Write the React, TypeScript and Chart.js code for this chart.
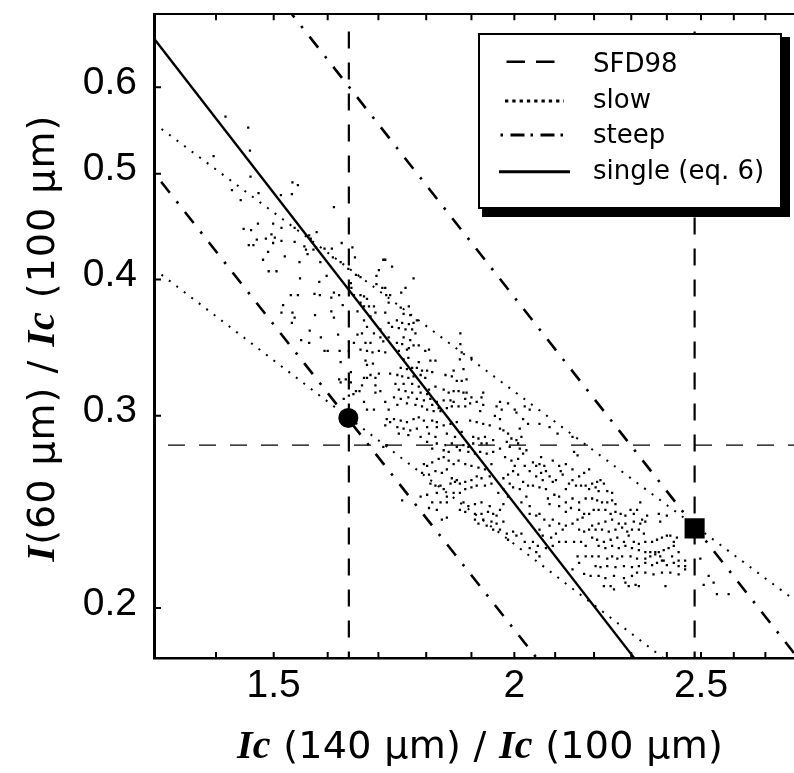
import React, { useEffect, useRef } from "react";
import { Chart, registerables } from "chart.js";

Chart.register(...registerables);

// ---------- axes ----------
const xRange = [1.3, 2.8];
const yRange = [0.18, 0.7];
const xMinorTicks = [1.4, 1.5, 1.6, 1.7, 1.8, 1.9, 2.0, 2.1, 2.2, 2.3, 2.4, 2.5, 2.6, 2.7];
const xTickLabels = [1.5, 2, 2.5];
const yTickLabels = [0.2, 0.3, 0.4, 0.5, 0.6];

// ---------- model lines (end points, data units) ----------
const singleX = [1.3, 2.308];
const singleY = [0.665, 0.18];
const slowUpperX = [1.3, 2.8];
const slowUpperY = [0.556, 0.203];
const slowLowerX = [1.3, 2.39];
const slowLowerY = [0.409, 0.18];
const steepUpperX = [1.533, 2.8];
const steepUpperY = [0.7, 0.181];
const steepLowerX = [1.3, 2.054];
const steepLowerY = [0.501, 0.18];
const sfdVerticalX = [1.641, 2.481];
const sfdVerticalY = [0.675, 0.18];
const sfdHorizontalX = [1.3, 2.8];
const sfdHorizontalY = 0.282;

// ---------- markers ----------
const circleMarker = [1.64, 0.2987];
const squareMarker = [2.481, 0.2366];

// ---------- legend ----------
const legendLabels = ["SFD98", "slow", "steep", "single (eq. 6)"];

// ---------- scatter cloud ----------
const cloudUpperLeft = [
  [1.416,0.564],[1.455,0.551],[1.458,0.525],[1.396,0.519],[1.459,0.497],[1.534,0.491],[1.544,0.488],[1.427,0.483],[1.442,0.473],[1.473,0.480],[1.513,0.478],[1.533,0.479],[1.612,0.466],[1.472,0.450],[1.447,0.445],[1.460,0.444],[1.499,0.450],[1.514,0.446],[1.538,0.446],[1.579,0.442],[1.496,0.440],[1.502,0.437],[1.486,0.436],[1.470,0.435],[1.456,0.430],[1.464,0.430],[1.499,0.432],[1.514,0.434],[1.538,0.433],[1.556,0.429],[1.565,0.439],[1.568,0.436],[1.559,0.426],[1.578,0.428],[1.594,0.427],[1.608,0.427],[1.627,0.432],[1.648,0.428],[1.490,0.424],[1.562,0.422],[1.573,0.426],[1.481,0.417],[1.520,0.420],[1.547,0.415],[1.586,0.415],[1.610,0.419],[1.625,0.415],[1.653,0.419],[1.491,0.407],[1.505,0.407],[1.548,0.401],[1.584,0.398],[1.598,0.403],[1.640,0.409],[1.655,0.404],[1.664,0.402],[1.696,0.403],[1.710,0.417],[1.714,0.417],[1.701,0.408],[1.728,0.411],[1.531,0.387],[1.544,0.387],[1.575,0.388],[1.585,0.387],[1.607,0.385],[1.612,0.389],[1.622,0.387],[1.629,0.379],[1.645,0.397],[1.646,0.393],[1.651,0.387],[1.664,0.387],[1.671,0.386],[1.677,0.384],[1.696,0.396],[1.708,0.393],[1.714,0.393],[1.716,0.387],[1.724,0.387],[1.721,0.381],[1.517,0.379],[1.514,0.373],[1.534,0.373],[1.538,0.369],[1.533,0.365],[1.576,0.371],[1.607,0.374],[1.612,0.369],[1.658,0.374],[1.664,0.381],[1.671,0.378],[1.681,0.378],[1.691,0.378],[1.684,0.370],[1.694,0.373],[1.671,0.367],[1.677,0.362],[1.667,0.357],[1.691,0.357],[1.714,0.373],[1.721,0.365],[1.728,0.362],[1.704,0.360],[1.566,0.359],[1.587,0.354],[1.620,0.356],[1.550,0.352],[1.565,0.350],[1.594,0.344],[1.600,0.344],[1.623,0.344],[1.641,0.351],[1.641,0.344],[1.651,0.350],[1.658,0.356],[1.664,0.345],[1.674,0.350],[1.684,0.350],[1.677,0.344],[1.704,0.354],[1.710,0.351],[1.721,0.354],[1.714,0.343],[1.701,0.344],[1.688,0.343],
];

const cloudUpperMid = [
  [1.773,0.401],[1.756,0.393],[1.747,0.389],[1.746,0.377],[1.763,0.378],[1.752,0.372],[1.766,0.371],[1.738,0.367],[1.749,0.365],[1.763,0.364],[1.773,0.365],[1.780,0.367],[1.742,0.361],[1.756,0.360],[1.770,0.360],[1.777,0.357],[1.752,0.354],[1.766,0.352],[1.738,0.350],[1.749,0.349],[1.763,0.346],[1.773,0.348],[1.784,0.348],[1.798,0.344],[1.806,0.345],[1.742,0.344],[1.759,0.345],[1.875,0.357],[1.875,0.349],[1.878,0.343],
];

const cloudLeftLow = [
  [1.625,0.336],[1.674,0.337],[1.677,0.334],[1.689,0.335],[1.622,0.324],[1.625,0.322],[1.635,0.324],[1.645,0.329],[1.645,0.322],[1.671,0.325],[1.677,0.325],[1.684,0.327],[1.694,0.325],[1.701,0.328],[1.694,0.320],[1.667,0.320],[1.662,0.316],[1.655,0.316],[1.650,0.314],[1.694,0.315],[1.704,0.316],[1.724,0.328],[1.631,0.311],[1.641,0.313],[1.671,0.309],[1.714,0.309],[1.677,0.304],[1.691,0.304],[1.721,0.304],[1.717,0.298],[1.714,0.294],[1.724,0.296],[1.710,0.281],[1.717,0.282],
];

const cloudCentreTop = [
  [1.752,0.338],[1.762,0.339],[1.784,0.336],[1.809,0.337],[1.820,0.337],[1.746,0.332],[1.759,0.331],[1.770,0.332],[1.780,0.332],[1.791,0.330],[1.802,0.330],[1.813,0.329],[1.739,0.327],[1.749,0.326],[1.762,0.325],[1.773,0.326],[1.788,0.327],[1.798,0.325],[1.735,0.321],[1.752,0.321],[1.770,0.321],[1.784,0.319],[1.820,0.319],[1.806,0.317],[1.742,0.317],[1.756,0.316],[1.770,0.315],[1.788,0.315],[1.802,0.314],[1.732,0.312],[1.746,0.311],[1.762,0.312],[1.780,0.311],[1.795,0.310],[1.809,0.311],[1.823,0.309],[1.739,0.307],[1.759,0.308],[1.777,0.307],[1.791,0.306],[1.813,0.307],[1.827,0.305],[1.802,0.304],[1.816,0.303],[1.831,0.303],[1.845,0.305],[1.856,0.306],[1.871,0.306],[1.838,0.317],[1.849,0.315],[1.860,0.316],[1.871,0.316],[1.882,0.315],[1.889,0.315],[1.853,0.310],[1.860,0.309],[1.886,0.311],[1.838,0.310],[1.886,0.306],[1.897,0.308],[1.874,0.338],[1.900,0.339],[1.860,0.330],[1.882,0.331],[1.856,0.326],[1.867,0.323],[1.878,0.323],[1.889,0.324],[1.842,0.327],
];

const cloudCentreMid = [
  [1.732,0.298],[1.746,0.297],[1.759,0.296],[1.773,0.298],[1.784,0.299],[1.795,0.297],[1.813,0.297],[1.823,0.296],[1.739,0.293],[1.752,0.292],[1.766,0.291],[1.780,0.292],[1.802,0.293],[1.823,0.293],[1.838,0.294],[1.853,0.295],[1.867,0.296],[1.897,0.297],[1.912,0.296],[1.927,0.295],[1.942,0.294],[1.742,0.289],[1.762,0.288],[1.788,0.287],[1.806,0.289],[1.820,0.287],[1.845,0.289],[1.863,0.287],[1.878,0.290],[1.904,0.287],[1.916,0.286],[1.931,0.287],[1.802,0.284],[1.823,0.283],[1.842,0.282],[1.856,0.283],[1.867,0.281],[1.882,0.282],[1.893,0.281],[1.904,0.283],[1.923,0.283],[1.935,0.283],[1.950,0.285],[1.813,0.280],[1.838,0.279],[1.849,0.278],[1.874,0.279],[1.893,0.278],[1.908,0.277],[1.920,0.278],[1.935,0.277],[1.950,0.278],[1.966,0.280],[1.966,0.292],[1.974,0.291],[1.985,0.289],[1.993,0.286],[1.982,0.284],[2.005,0.285],[2.017,0.287],[2.013,0.292],[2.009,0.283],[1.958,0.306],[1.970,0.304],[1.954,0.300],[1.966,0.298],[2.001,0.304],[2.005,0.302],[1.920,0.303],[1.927,0.307],[1.912,0.309],[1.923,0.312],[1.927,0.315],[1.900,0.312],
];

const cloudCentreLow = [
  [1.795,0.271],[1.802,0.270],[1.813,0.272],[1.827,0.274],[1.838,0.275],[1.849,0.273],[1.860,0.271],[1.871,0.273],[1.886,0.271],[1.900,0.270],[1.916,0.269],[1.931,0.268],[1.946,0.271],[1.791,0.266],[1.806,0.265],[1.820,0.267],[1.834,0.266],[1.845,0.268],[1.856,0.263],[1.863,0.261],[1.853,0.260],[1.867,0.262],[1.874,0.260],[1.886,0.261],[1.900,0.262],[1.912,0.264],[1.923,0.263],[1.942,0.264],[1.809,0.260],[1.820,0.259],[1.831,0.259],[1.838,0.257],[1.823,0.255],[1.845,0.253],[1.860,0.255],[1.874,0.255],[1.886,0.257],[1.900,0.258],[1.912,0.259],[1.931,0.259],[1.946,0.260],[1.802,0.254],[1.788,0.253],[1.749,0.251],[1.813,0.250],[1.831,0.250],[1.845,0.250],[1.882,0.250],[1.893,0.248],[1.908,0.249],[1.923,0.250],[1.942,0.248],[1.806,0.247],[1.823,0.246],[1.874,0.246],[1.886,0.245],[1.908,0.244],[1.923,0.244],[1.938,0.245],[1.950,0.244],[1.834,0.241],[1.845,0.242],[1.908,0.241],[1.916,0.239],[1.927,0.241],[1.935,0.238],[1.946,0.240],[1.958,0.239],[1.974,0.240],[1.958,0.243],[1.966,0.246],[1.974,0.249],[1.985,0.253],[1.962,0.255],[1.974,0.257],[1.997,0.258],[1.989,0.260],[1.974,0.263],[1.985,0.265],[1.997,0.267],[2.009,0.265],[2.021,0.261],[2.033,0.259],[2.013,0.257],[2.029,0.253],[2.017,0.250],[2.037,0.248],[2.037,0.244],[2.053,0.243],[2.061,0.244],[2.073,0.241],[2.094,0.241],[2.110,0.239],[2.086,0.238],[2.061,0.236],[2.069,0.233],[2.090,0.232],[2.102,0.234],[2.119,0.236],[2.127,0.238],[2.144,0.239],[2.157,0.241],[2.170,0.242],[2.161,0.236],[2.174,0.235],[2.187,0.236],[1.950,0.236],[1.966,0.236],[1.982,0.234],[1.997,0.235],[1.985,0.231],[2.005,0.233],[2.017,0.234],[2.025,0.230],[2.037,0.227],[2.045,0.230],[2.053,0.225],[2.061,0.223],[2.057,0.228],[2.077,0.227],[2.094,0.228],[2.110,0.230],[2.127,0.230],[2.148,0.230],[2.166,0.230],[2.178,0.228],[2.178,0.223],[2.157,0.223],[2.161,0.220],[2.144,0.217],[2.174,0.215],[2.191,0.214],
];

const cloudCentreRight = [
  [1.966,0.309],[1.985,0.308],[2.025,0.306],[2.037,0.304],[2.021,0.298],[2.033,0.295],[2.061,0.295],[2.086,0.293],[2.106,0.289],[2.144,0.287],[2.148,0.278],[2.157,0.276],[2.127,0.271],[2.144,0.268],[2.161,0.264],[2.174,0.266],[2.187,0.268],[2.135,0.260],[2.153,0.259],[2.166,0.259],[2.178,0.259],[2.187,0.257],[2.127,0.257],[2.110,0.253],[2.127,0.250],[2.144,0.252],[2.161,0.250],[2.178,0.252],[2.082,0.252],[2.086,0.249],[2.098,0.254],[2.110,0.248],[2.127,0.245],[2.140,0.247],[2.161,0.246],[2.174,0.244],[2.187,0.244],[2.045,0.272],[2.053,0.270],[2.061,0.271],[2.073,0.270],[2.077,0.267],[2.065,0.266],[2.053,0.264],[2.069,0.262],[2.086,0.264],[2.102,0.262],[2.114,0.267],[2.045,0.259],[2.061,0.258],[2.077,0.257],[2.094,0.261],[2.025,0.270],[2.037,0.267],[2.009,0.274],[2.021,0.277],[2.029,0.279],[2.013,0.280],[1.989,0.281],[1.978,0.275],[1.993,0.273],[2.001,0.270],[2.065,0.275],[2.094,0.273],[2.110,0.270],[2.119,0.265],[2.144,0.262],
];

const cloudRight = [
  [2.195,0.260],[2.208,0.261],[2.217,0.262],[2.226,0.260],[2.204,0.258],[2.212,0.256],[2.235,0.256],[2.248,0.255],[2.195,0.252],[2.208,0.251],[2.221,0.250],[2.235,0.250],[2.248,0.251],[2.257,0.249],[2.199,0.246],[2.212,0.246],[2.230,0.246],[2.244,0.244],[2.257,0.245],[2.271,0.244],[2.284,0.243],[2.298,0.246],[2.307,0.244],[2.316,0.246],[2.330,0.241],[2.339,0.240],[2.344,0.243],[2.325,0.239],[2.307,0.240],[2.284,0.239],[2.266,0.239],[2.248,0.241],[2.230,0.240],[2.212,0.239],[2.195,0.238],[2.204,0.236],[2.221,0.236],[2.239,0.235],[2.257,0.236],[2.275,0.237],[2.289,0.235],[2.302,0.236],[2.321,0.236],[2.335,0.234],[2.195,0.232],[2.208,0.231],[2.226,0.230],[2.244,0.231],[2.262,0.232],[2.280,0.230],[2.293,0.233],[2.307,0.230],[2.321,0.229],[2.339,0.230],[2.358,0.230],[2.372,0.231],[2.386,0.232],[2.400,0.233],[2.410,0.233],[2.420,0.230],[2.429,0.232],[2.212,0.228],[2.230,0.227],[2.248,0.228],[2.266,0.227],[2.284,0.228],[2.302,0.227],[2.321,0.226],[2.339,0.225],[2.353,0.225],[2.367,0.225],[2.377,0.225],[2.391,0.226],[2.405,0.227],[2.420,0.228],[2.434,0.225],[2.195,0.223],[2.212,0.223],[2.235,0.222],[2.248,0.223],[2.262,0.222],[2.275,0.223],[2.298,0.223],[2.316,0.222],[2.339,0.222],[2.353,0.223],[2.367,0.224],[2.381,0.223],[2.391,0.221],[2.415,0.223],[2.434,0.221],[2.453,0.221],[2.204,0.2185],[2.217,0.218],[2.235,0.2185],[2.257,0.218],[2.280,0.2185],[2.302,0.218],[2.321,0.2185],[2.339,0.220],[2.358,0.219],[2.372,0.220],[2.386,0.221],[2.400,0.219],[2.420,0.220],[2.434,0.2185],[2.453,0.2185],[2.212,0.214],[2.230,0.213],[2.253,0.214],[2.280,0.213],[2.302,0.214],[2.316,0.2155],[2.339,0.2155],[2.362,0.2147],[2.386,0.2155],[2.410,0.2155],[2.434,0.2147],[2.453,0.217],[2.226,0.2095],[2.244,0.2095],[2.253,0.208],[2.284,0.211],[2.293,0.2095],[2.312,0.210],[2.321,0.2095],[2.396,0.2095],[2.498,0.222],[2.523,0.214],[2.538,0.211],[2.508,0.210],[2.548,0.206],[2.584,0.206],[2.325,0.250],[2.377,0.244],[2.400,0.243],[2.381,0.240],
];

const allCloud = [
  ...cloudUpperLeft, ...cloudUpperMid, ...cloudLeftLow, ...cloudCentreTop,
  ...cloudCentreMid, ...cloudCentreLow, ...cloudCentreRight, ...cloudRight,
];

// ---------- helpers ----------
const pts = (xs: number[], ys: number[]) => xs.map((x, i) => ({ x, y: ys[i] }));

const lineDs = (data: any[], width: number, dash: number[], offset = 0) => ({
  data,
  showLine: true,
  borderColor: "#000",
  borderWidth: width,
  borderDash: dash,
  borderDashOffset: offset,
  borderCapStyle: "butt",
  pointRadius: 0,
  fill: false,
  tension: 0,
});

const SANS = "'DejaVu Sans', sans-serif";
const TICKF = "'Liberation Sans', Arial, sans-serif";
const SERIF_BI = "bold italic 40px 'Liberation Serif', serif";

function drawRich(
  ctx: CanvasRenderingContext2D,
  parts: { t: string; it?: boolean }[],
  cx: number,
  base: number,
  spacing = 0
) {
  const fonts = parts.map((p) => (p.it ? SERIF_BI : `38px ${SANS}`));
  const anyCtx = ctx as any;
  const hasLS = "letterSpacing" in anyCtx;
  if (hasLS) anyCtx.letterSpacing = `${spacing}px`;
  let total = 0;
  const widths = parts.map((p, i) => {
    ctx.font = fonts[i];
    const w = ctx.measureText(p.t).width;
    total += w;
    return w;
  });
  let x = cx - total / 2;
  ctx.textAlign = "left";
  ctx.textBaseline = "alphabetic";
  parts.forEach((p, i) => {
    ctx.font = fonts[i];
    ctx.fillText(p.t, x, base);
    x += widths[i];
  });
  if (hasLS) anyCtx.letterSpacing = "0px";
}

function segment(ctx: CanvasRenderingContext2D, x1: number, x2: number, y: number, w: number, dash: number[]) {
  ctx.save();
  ctx.lineWidth = w;
  ctx.setLineDash(dash);
  ctx.lineCap = "butt";
  ctx.strokeStyle = "#000";
  ctx.beginPath();
  ctx.moveTo(x1, y);
  ctx.lineTo(x2, y);
  ctx.stroke();
  ctx.restore();
}

const decorPlugin = {
  id: "decor",
  afterDraw(chart: any) {
    const { ctx, chartArea: ca, scales } = chart;
    const xs = scales.x;
    const ys = scales.y;
    ctx.save();
    ctx.fillStyle = "#000";
    ctx.strokeStyle = "#000";

    // inward tick marks
    ctx.lineWidth = 2;
    ctx.beginPath();
    for (const v of xMinorTicks) {
      const px = xs.getPixelForValue(v);
      ctx.moveTo(px, ca.bottom);
      ctx.lineTo(px, ca.bottom - 6);
      ctx.moveTo(px, ca.top);
      ctx.lineTo(px, ca.top + 6);
    }
    for (const v of yTickLabels) {
      const py = ys.getPixelForValue(v);
      ctx.moveTo(ca.left, py);
      ctx.lineTo(ca.left + 7, py);
    }
    ctx.stroke();

    // tick labels
    ctx.font = `39px ${TICKF}`;
    ctx.textBaseline = "alphabetic";
    ctx.textAlign = "center";
    for (const v of xTickLabels) {
      ctx.fillText(String(v), xs.getPixelForValue(v), ca.bottom + 38.5);
    }
    ctx.textAlign = "right";
    for (const v of yTickLabels) {
      ctx.fillText(v.toFixed(1), ca.left - 17, ys.getPixelForValue(v) + 6.5);
    }

    // axis titles
    drawRich(
      ctx,
      [{ t: "Ic", it: true }, { t: " (140 μm) / " }, { t: "Ic", it: true }, { t: " (100 μm)" }],
      480,
      758,
      0.3
    );
    ctx.save();
    ctx.translate(54, (ca.top + ca.bottom) / 2 + 2);
    ctx.rotate(-Math.PI / 2);
    drawRich(ctx, [{ t: "I", it: true }, { t: "(60 μm) / " }, { t: "Ic", it: true }, { t: " (100 μm)" }], 0, 0, 1);
    ctx.restore();

    // legend box with shadow
    const bx = 478, by = 33, bw = 304, bh = 176;
    ctx.fillStyle = "#000";
    ctx.fillRect(bx + 4, by + 4, bw + 4, bh + 4);
    ctx.fillStyle = "#fff";
    ctx.fillRect(bx, by, bw, bh);
    ctx.lineWidth = 2;
    ctx.strokeStyle = "#000";
    ctx.setLineDash([]);
    ctx.strokeRect(bx + 1, by + 1, bw - 2, bh - 2);

    const rowY = [61.7, 101, 135, 171.7];
    segment(ctx, 506.5, 555, rowY[0], 2.5, [18.5, 11]);
    segment(ctx, 505, 564, rowY[1], 3, [3.3, 4]);
    segment(ctx, 500.5, 564, rowY[2], 3, [2.5, 7.5, 14, 6]);
    segment(ctx, 499, 570, rowY[3], 3, []);

    ctx.fillStyle = "#000";
    ctx.font = `26px ${SANS}`;
    ctx.textAlign = "left";
    ctx.textBaseline = "alphabetic";
    const baseY = [71.5, 107.5, 143, 178.5];
    legendLabels.forEach((lab, i) => ctx.fillText(lab, 593, baseY[i]));

    ctx.restore();
  },
};

export default function App() {
  const ref = useRef<HTMLCanvasElement | null>(null);

  useEffect(() => {
    if (!ref.current) return;
    const datasets: any[] = [
      {
        data: [{ x: circleMarker[0], y: circleMarker[1] }],
        pointStyle: "circle",
        pointRadius: 10,
        pointBackgroundColor: "#000",
        pointBorderWidth: 0,
      },
      {
        data: [{ x: squareMarker[0], y: squareMarker[1] }],
        pointStyle: "rect",
        pointRadius: 14.2,
        pointBackgroundColor: "#000",
        pointBorderWidth: 0,
      },
      lineDs(pts(singleX, singleY), 2.3, []),
      lineDs(pts(slowUpperX, slowUpperY), 2, [2, 7.4]),
      lineDs(pts(slowLowerX, slowLowerY), 2, [2, 7.4]),
      lineDs(pts(steepUpperX, steepUpperY), 2.6, [14, 11, 2.5, 11], 10),
      lineDs(pts(steepLowerX, steepLowerY), 2.6, [14, 11, 2.5, 11], 27),
      lineDs(pts([sfdVerticalX[0], sfdVerticalX[0]], sfdVerticalY), 2.2, [17, 14]),
      lineDs(pts([sfdVerticalX[1], sfdVerticalX[1]], sfdVerticalY), 2.2, [17, 14]),
      lineDs(pts(sfdHorizontalX, [sfdHorizontalY, sfdHorizontalY]), 1.2, [17, 14], 17),
      {
        data: allCloud.map(([x, y]) => ({ x, y })),
        pointStyle: "rect",
        pointRadius: 1.6,
        pointBackgroundColor: "#000",
        pointBorderWidth: 0,
        showLine: false,
      },
    ];

    const chart = new Chart(ref.current, {
      type: "scatter",
      data: { datasets },
      options: {
        animation: false,
        responsive: false,
        devicePixelRatio: 1,
        events: [],
        layout: { padding: { left: 0, right: 10, top: 0, bottom: 0 } },
        scales: {
          x: {
            type: "logarithmic",
            position: "bottom",
            min: xRange[0],
            max: xRange[1],
            grid: { display: false },
            border: { display: true, color: "#000", width: 2.5 },
            ticks: { display: false },
            afterFit: (s: any) => { s.height = 115; },
          },
          xTop: {
            type: "logarithmic",
            position: "top",
            min: xRange[0],
            max: xRange[1],
            grid: { display: false },
            border: { display: true, color: "#000", width: 2 },
            ticks: { display: false },
            afterFit: (s: any) => { s.height = 10; },
          },
          y: {
            type: "logarithmic",
            position: "left",
            min: yRange[0],
            max: yRange[1],
            grid: { display: false },
            border: { display: true, color: "#000", width: 3 },
            ticks: { display: false },
            afterFit: (s: any) => { s.width = 154; },
          },
        },
        plugins: {
          legend: { display: false },
          tooltip: { enabled: false },
        },
      } as any,
      plugins: [decorPlugin],
    });
    return () => chart.destroy();
  }, []);

  return (
    <div
      style={{
        position: "fixed",
        left: 0,
        top: 0,
        width: 794,
        height: 773,
        overflow: "hidden",
        background: "#fff",
      }}
    >
      <canvas ref={ref} width={810} height={773} style={{ display: "block" }} />
    </div>
  );
}
